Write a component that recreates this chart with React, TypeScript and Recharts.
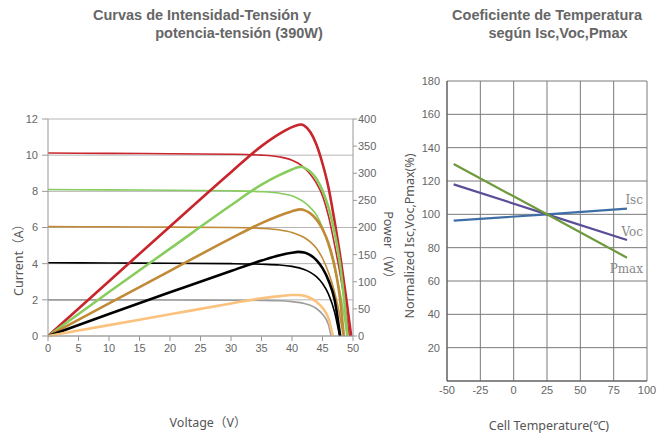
import React from "react";
import { LineChart, Line, XAxis, YAxis, CartesianGrid } from "recharts";

// ---------- Left chart data (I-V and P-V curves, 390W module) ----------
const voltageTicks = [0, 5, 10, 15, 20, 25, 30, 35, 40, 45, 50];
const currentTicks = [0, 2, 4, 6, 8, 10, 12];
const powerTicks = [0, 50, 100, 150, 200, 250, 300, 350, 400];

// [voltage, current]
const iv1000: number[][] = [[0, 10.12], [10, 10.1], [20, 10.08], [30, 10.05], [35, 10.0], [38, 9.9], [40, 9.72], [41, 9.55], [42, 9.3], [43, 8.95], [44, 8.45], [45, 7.75], [46, 6.6], [47, 5.0], [48, 3.2], [49, 1.0], [49.4, 0]];
const iv800: number[][] = [[0, 8.1], [10, 8.08], [20, 8.06], [30, 8.03], [35, 7.98], [38, 7.89], [40, 7.75], [41, 7.6], [42, 7.4], [43, 7.1], [44, 6.7], [45, 6.0], [46, 5.0], [47, 3.7], [48, 2.2], [48.6, 1.0], [49.0, 0]];
const iv600: number[][] = [[0, 6.05], [10, 6.04], [20, 6.02], [30, 6.0], [35, 5.95], [38, 5.86], [40, 5.72], [41, 5.6], [42, 5.45], [43, 5.2], [44, 4.85], [45, 4.3], [46, 3.5], [47, 2.4], [47.8, 1.2], [48.4, 0]];
const iv400: number[][] = [[0, 4.05], [10, 4.04], [20, 4.02], [30, 4.0], [35, 3.97], [38, 3.93], [40, 3.85], [41, 3.78], [42, 3.68], [43, 3.52], [44, 3.28], [45, 2.9], [46, 2.3], [47, 1.3], [47.8, 0]];
const iv200: number[][] = [[0, 2.0], [10, 2.0], [20, 1.99], [30, 1.98], [35, 1.97], [38, 1.95], [40, 1.9], [41, 1.86], [42, 1.8], [43, 1.7], [44, 1.52], [45, 1.2], [46, 0.6], [46.4, 0]];

// [voltage, power]
const pv1000: number[][] = [[0, 0], [10, 101], [20, 202], [30, 302], [35, 350], [38, 373], [40, 385], [41, 389], [41.5, 390], [42, 388], [43, 376], [44, 353], [45, 318], [46, 273], [47, 210], [48, 140], [49, 60], [49.7, 0]];
const pv800: number[][] = [[0, 0], [10, 81], [20, 161], [30, 241], [35, 279], [38, 297], [40, 307], [41, 311], [41.6, 312], [42, 310], [43, 303], [44, 290], [45, 268], [46, 236], [47, 190], [48, 122], [48.7, 50], [49.1, 0]];
const pv600: number[][] = [[0, 0], [10, 60], [20, 120], [30, 180], [35, 208], [38, 222], [40, 230], [41, 233], [41.5, 233.5], [42, 232], [43, 226], [44, 215], [45, 197], [46, 170], [47, 128], [47.8, 75], [48.5, 0]];
const pv400: number[][] = [[0, 0], [10, 40.5], [20, 80.5], [30, 120], [35, 139], [38, 149], [40, 153.5], [41, 155], [42, 154], [43, 149], [44, 140], [45, 125], [46, 102], [47, 66], [47.9, 0]];
const pv200: number[][] = [[0, 0], [10, 20], [20, 40], [30, 60], [35, 69.5], [38, 73.5], [40, 75.5], [41, 75.5], [42, 74], [43, 70], [44, 63], [45, 52], [46, 32], [46.7, 0]];

// ---------- Right chart data (temperature coefficients) ----------
const tempTicks = [-50, -25, 0, 25, 50, 75, 100];
const normTicks = [20, 40, 60, 80, 100, 120, 140, 160, 180];
const iscLine: number[][] = [[-45, 96.2], [25, 100], [85, 103.4]];
const vocLine: number[][] = [[-45, 118], [25, 100], [85, 84.6]];
const pmaxLine: number[][] = [[-45, 130.2], [25, 100], [85, 74]];

const toPts = (arr: number[][], key: string) => arr.map(([x, y]) => ({ x, [key]: y }));

const C = {
  red: "#c8252c",
  green: "#88cc5e",
  brown: "#c08a36",
  black: "#000000",
  gray: "#9d9d9d",
  orange: "#fbc27d",
  isc: "#3f6ea6",
  voc: "#5a4e98",
  pmax: "#6e9a3d",
};

const tickStyle = { fill: "#666", fontSize: 11, fontFamily: "Liberation Sans, Arial, sans-serif" };
const labelFont = "'Noto Sans', 'Noto Sans CJK SC', sans-serif";

function LeftChart() {
  const ivSeries = [
    { d: iv1000, c: C.red },
    { d: iv800, c: C.green },
    { d: iv600, c: C.brown },
    { d: iv400, c: C.black },
    { d: iv200, c: C.gray },
  ];
  const pvSeries = [
    { d: pv1000, c: C.red },
    { d: pv800, c: C.green },
    { d: pv600, c: C.brown },
    { d: pv400, c: C.black },
    { d: pv200, c: C.orange },
  ];
  return (
    <LineChart width={400} height={434} margin={{ top: 119, right: 0, bottom: 68, left: 0 }}>
      <CartesianGrid vertical={false} stroke="#b5b5b5" yAxisId="i" />
      <XAxis
        type="number"
        dataKey="x"
        domain={[0, 50]}
        ticks={voltageTicks}
        height={30}
        stroke="#999"
        tickSize={5}
        tickMargin={3}
        tick={tickStyle}
        allowDataOverflow
      />
      <YAxis
        yAxisId="i"
        orientation="left"
        domain={[0, 12]}
        ticks={currentTicks}
        width={48}
        stroke="#999"
        tickSize={6}
        tickMargin={4}
        tick={tickStyle}
      />
      <YAxis
        yAxisId="p"
        orientation="right"
        domain={[0, 400]}
        ticks={powerTicks}
        width={47}
        stroke="#999"
        tickSize={4}
        tickMargin={1}
        tick={{ ...tickStyle, textAnchor: "start" }}
      />
      {ivSeries.map((s, k) => (
        <Line
          key={"iv" + k}
          yAxisId="i"
          data={toPts(s.d, "y")}
          dataKey="y"
          type="monotone"
          stroke={s.c}
          strokeWidth={1.6}
          dot={false}
          activeDot={false}
          isAnimationActive={false}
        />
      ))}
      {pvSeries.map((s, k) => (
        <Line
          key={"pv" + k}
          yAxisId="p"
          data={toPts(s.d, "y")}
          dataKey="y"
          type="monotone"
          stroke={s.c}
          strokeWidth={2.6}
          dot={false}
          activeDot={false}
          isAnimationActive={false}
        />
      ))}
    </LineChart>
  );
}

function RightChart() {
  const series = [
    { d: iscLine, c: C.isc },
    { d: vocLine, c: C.voc },
    { d: pmaxLine, c: C.pmax },
  ];
  return (
    <LineChart width={277} height={434} margin={{ top: 81, right: 20, bottom: 28, left: 0 }}>
      <CartesianGrid stroke="#7a7a7a" strokeWidth={1} />
      <XAxis
        type="number"
        dataKey="x"
        domain={[-50, 100]}
        ticks={tempTicks}
        height={25}
        stroke="#555"
        tickLine={false}
        tickSize={0}
        tickMargin={5}
        tick={tickStyle}
      />
      <YAxis
        type="number"
        domain={[0, 180]}
        ticks={normTicks}
        width={57}
        stroke="#555"
        tickLine={false}
        tickSize={0}
        tickMargin={7}
        tick={tickStyle}
      />
      {series.map((s, k) => (
        <Line
          key={k}
          data={toPts(s.d, "y")}
          dataKey="y"
          type="linear"
          stroke={s.c}
          strokeWidth={2.2}
          dot={false}
          activeDot={false}
          isAnimationActive={false}
        />
      ))}
    </LineChart>
  );
}

export default function App() {
  const titleStyle = {
    fontFamily: "'Liberation Sans', Arial, sans-serif",
    fontWeight: 700,
    fontSize: 14.5,
    fill: "#666",
  } as const;
  const serifLabel = { fontFamily: "'DejaVu Serif', 'Liberation Serif', serif", fontSize: 12, fill: "#888" } as const;
  const axisLabel = { fontFamily: labelFont, fontSize: 12.5, fill: "#555" } as const;
  return (
    <div style={{ position: "absolute", left: 0, top: 0, width: 667, height: 434, background: "#fff" }}>
      <div style={{ position: "absolute", left: 0, top: 0 }}>
        <LeftChart />
      </div>
      <div style={{ position: "absolute", left: 390, top: 0 }}>
        <RightChart />
      </div>
      <svg
        width={667}
        height={434}
        style={{ position: "absolute", left: 0, top: 0, pointerEvents: "none" }}
      >
        <text x={202} y={20} textAnchor="middle" {...titleStyle}>Curvas de Intensidad-Tensión y</text>
        <text x={239} y={38} textAnchor="middle" {...titleStyle}>potencia-tensión (390W)</text>
        <text x={547} y={20} textAnchor="middle" {...titleStyle}>Coeficiente de Temperatura</text>
        <text x={558} y={38} textAnchor="middle" {...titleStyle}>según Isc,Voc,Pmax</text>

        <text x={208} y={427} textAnchor="middle" {...axisLabel}>Voltage（V）</text>
        <text transform="translate(23,257) rotate(-90)" textAnchor="middle" {...axisLabel}>Current（A）</text>
        <text transform="translate(384,248) rotate(90)" textAnchor="middle" {...axisLabel}>Power（W）</text>

        <text x={549} y={430} textAnchor="middle" {...axisLabel}>Cell Temperature(℃)</text>
        <text transform="translate(414,236) rotate(-90)" textAnchor="middle" {...axisLabel}>Normalized Isc,Voc,Pmax(%)</text>

        <text x={643} y={204} textAnchor="end" {...serifLabel}>Isc</text>
        <text x={643} y={236} textAnchor="end" {...serifLabel}>Voc</text>
        <text x={643} y={273} textAnchor="end" {...serifLabel}>Pmax</text>
      </svg>
    </div>
  );
}
